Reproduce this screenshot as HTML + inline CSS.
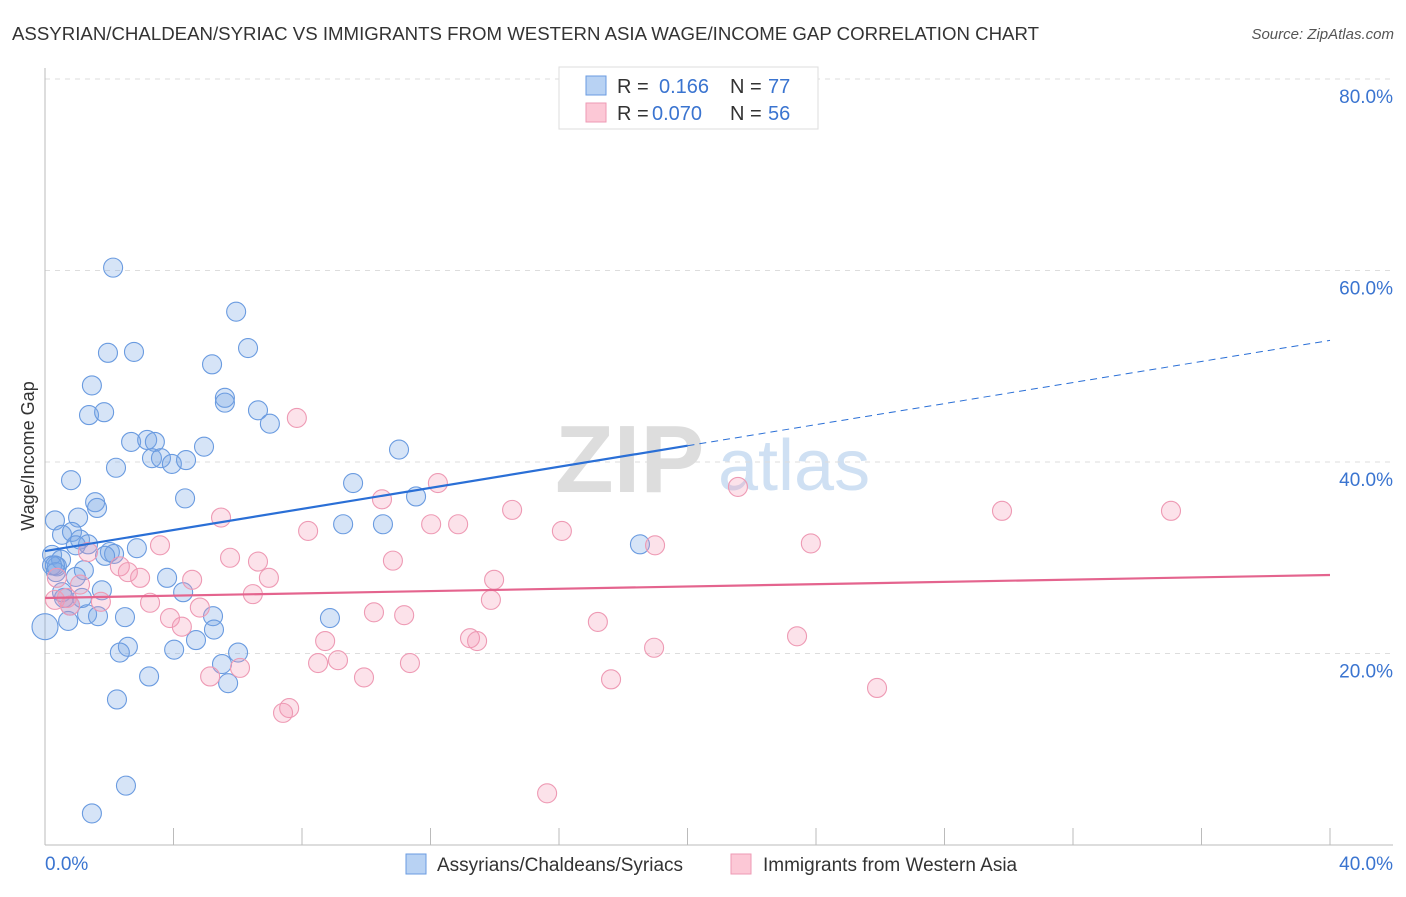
<!DOCTYPE html>
<html><head><meta charset="utf-8"><style>
body{margin:0;background:#fff;font-family:"Liberation Sans",sans-serif}
svg text{font-family:"Liberation Sans",sans-serif}
</style></head><body>
<svg id="chart" width="1406" height="892" viewBox="0 0 1406 892" xmlns="http://www.w3.org/2000/svg">
<text x="12" y="40" font-size="18" fill="#333" textLength="1027" lengthAdjust="spacingAndGlyphs">ASSYRIAN/CHALDEAN/SYRIAC VS IMMIGRANTS FROM WESTERN ASIA WAGE/INCOME GAP CORRELATION CHART</text>
<text x="1394" y="39" font-size="15" fill="#555" text-anchor="end" font-style="italic">Source: ZipAtlas.com</text>
<g>
<text x="555" y="492" font-size="96" fill="#ddd" font-family="Liberation Serif,serif" font-weight="bold">ZIP</text>
<text x="718" y="490" font-size="72" fill="#cfe0f3">atlas</text>
</g>
<g id="grid"></g>
<g id="axes"></g>
<g id="pts"></g>
<g id="trends"></g>
<text transform="translate(34,456) rotate(-90)" font-size="18" fill="#333" text-anchor="middle">Wage/Income Gap</text>
<g>
<rect x="559" y="67" width="259" height="62" fill="#fff" stroke="#ddd"/>
<rect x="586" y="76" width="20" height="19" fill="#b8d2f3" stroke="#6a9be0"/>
<rect x="586" y="103" width="20" height="19" fill="#fcc8d6" stroke="#ee9ab4"/>
<text x="617" y="93" font-size="20" fill="#333">R =</text><text x="659" y="93" font-size="20" fill="#3a74d0">0.166</text>
<text x="730" y="93" font-size="20" fill="#333">N =</text><text x="768" y="93" font-size="20" fill="#3a74d0">77</text>
<text x="617" y="120" font-size="20" fill="#333">R =</text><text x="652" y="120" font-size="20" fill="#3a74d0">0.070</text>
<text x="730" y="120" font-size="20" fill="#333">N =</text><text x="768" y="120" font-size="20" fill="#3a74d0">56</text>
</g>
<g>
<rect x="406" y="854" width="20" height="20" fill="#b8d2f3" stroke="#6a9be0"/>
<text x="437" y="871" font-size="19" fill="#333">Assyrians/Chaldeans/Syriacs</text>
<rect x="731" y="854" width="20" height="20" fill="#fcc8d6" stroke="#ee9ab4"/>
<text x="763" y="871" font-size="19" fill="#333">Immigrants from Western Asia</text>
</g>
</svg>
<script>
const blueX=[2.12,5.95,6.32,1.96,2.77,5.2,1.46,5.6,5.6,1.37,1.84,6.63,7.0,2.68,3.18,3.42,3.33,3.61,3.95,4.39,4.95,11.02,2.21,0.81,4.36,1.56,1.62,9.59,11.55,0.31,1.03,9.28,10.52,0.53,0.84,1.09,1.34,0.96,0.22,0.5,2.02,2.15,1.87,2.86,18.52,0.37,0.22,0.34,1.21,0.96,3.8,0.53,1.77,1.15,4.3,0.59,0.78,1.31,1.65,2.49,5.23,8.87,0.72,0,5.26,4.7,4.02,2.58,2.33,6.01,5.51,3.24,5.7,2.24,2.52,1.46,0.31];
const blueY=[60.3,55.7,51.9,51.4,51.5,50.2,48.0,46.7,46.2,44.9,45.2,45.4,44.0,42.1,42.3,42.1,40.4,40.4,39.8,40.2,41.6,41.3,39.4,38.1,36.2,35.8,35.2,37.8,36.4,33.9,34.2,33.5,33.5,32.4,32.7,31.9,31.4,31.3,30.3,29.8,30.6,30.4,30.2,31.0,31.4,29.1,29.2,28.5,28.7,28.0,27.9,26.4,26.6,25.8,26.4,25.8,25.0,24.1,23.9,23.8,23.9,23.7,23.4,22.8,22.5,21.4,20.4,20.7,20.1,20.1,18.9,17.6,16.9,15.2,6.2,3.3,29.2];
const pinkX=[7.84,12.23,10.49,14.54,21.57,29.79,35.05,5.48,12.02,12.86,8.19,16.09,3.58,18.99,23.84,1.34,5.76,10.83,6.63,2.33,2.58,2.96,0.37,1.09,4.58,6.97,13.98,6.47,0.31,0.68,0.78,1.74,3.27,13.88,4.82,3.89,4.26,10.24,11.18,17.21,8.72,13.23,13.45,23.41,18.96,9.12,8.5,11.36,9.93,5.14,6.07,17.62,25.9,7.6,7.41,15.63];
const pinkY=[44.6,37.8,36.1,35.0,37.4,34.9,34.9,34.2,33.5,33.5,32.8,32.8,31.3,31.3,31.5,30.6,30.0,29.7,29.6,29.1,28.5,27.9,27.9,27.2,27.7,27.9,27.7,26.2,25.6,25.8,25.0,25.4,25.3,25.6,24.8,23.7,22.8,24.3,24.0,23.3,21.3,21.6,21.3,21.8,20.6,19.3,19.0,19.0,17.5,17.6,18.5,17.3,16.4,14.3,13.8,5.4];
const yTicks=[20,40,60,80];
const yTickLabels=["20.0%","40.0%","60.0%","80.0%"];
const xTicks=[0,4,8,12,16,20,24,28,32,36,40];
const blueTrend=[30.7,52.7];
const blueSolidEnd=20;
const pinkTrend=[25.8,28.2];
const NS="http://www.w3.org/2000/svg";
const X=v=>45+v*32.125, Y=v=>845-v*9.575;
function mk(tag,attrs,parent){const e=document.createElementNS(NS,tag);for(const k in attrs)e.setAttribute(k,attrs[k]);parent.appendChild(e);return e;}
const grid=document.getElementById('grid'),axes=document.getElementById('axes'),pts=document.getElementById('pts'),tr=document.getElementById('trends');
yTicks.forEach((t,i)=>{
  const l=mk('line',{x1:45,x2:1393,y1:Y(t),y2:Y(t),stroke:'#ddd','stroke-dasharray':'5,5'},grid);
  
  
  const tx=mk('text',{x:1393,y:Y(t)+24,'font-size':19,fill:'#3a74d0','text-anchor':'end'},axes);
  tx.textContent=yTickLabels[i];
  
  
});
const al=mk('line',{x1:45,x2:45,y1:68,y2:845,stroke:'#bbb'},axes);


const bl=mk('line',{x1:45,x2:1393,y1:845,y2:845,stroke:'#bbb'},axes);


xTicks.forEach(t=>{
  const l=mk('line',{x1:X(t),x2:X(t),y1:828,y2:845,stroke:'#bbb'},axes);
  
  
});
const x0=mk('text',{x:45,y:870,'font-size':19,fill:'#3a74d0'},axes);x0.textContent='0.0%';


const x1=mk('text',{x:1393,y:870,'font-size':19,fill:'#3a74d0','text-anchor':'end'},axes);x1.textContent='40.0%';


function dots(xs,ys,fill,stroke,name){xs.forEach((x,i)=>{
  const c=mk('circle',{cx:X(x),cy:Y(ys[i]),r:x===0?13:9.5,fill:fill,stroke:stroke,'stroke-width':1.1},pts);
  
  
});}
dots(blueX,blueY,'rgba(120,165,230,0.3)','#6a9be0','point-assyrians');
dots(pinkX,pinkY,'rgba(245,150,180,0.28)','#ee9ab4','point-western-asia');
const bt=v=>blueTrend[0]+(blueTrend[1]-blueTrend[0])*v/40;
const b1=mk('line',{x1:X(0),y1:Y(bt(0)),x2:X(blueSolidEnd),y2:Y(bt(blueSolidEnd)),stroke:'#2a6fd6','stroke-width':2.2},tr);


const b2=mk('line',{x1:X(blueSolidEnd),y1:Y(bt(blueSolidEnd)),x2:X(40),y2:Y(bt(40)),stroke:'#2a6fd6','stroke-width':1,'stroke-dasharray':'7,5'},tr);


const p1=mk('line',{x1:X(0),y1:Y(pinkTrend[0]),x2:X(40),y2:Y(pinkTrend[1]),stroke:'#e4648e','stroke-width':2.2},tr);


</script>
</body></html>
